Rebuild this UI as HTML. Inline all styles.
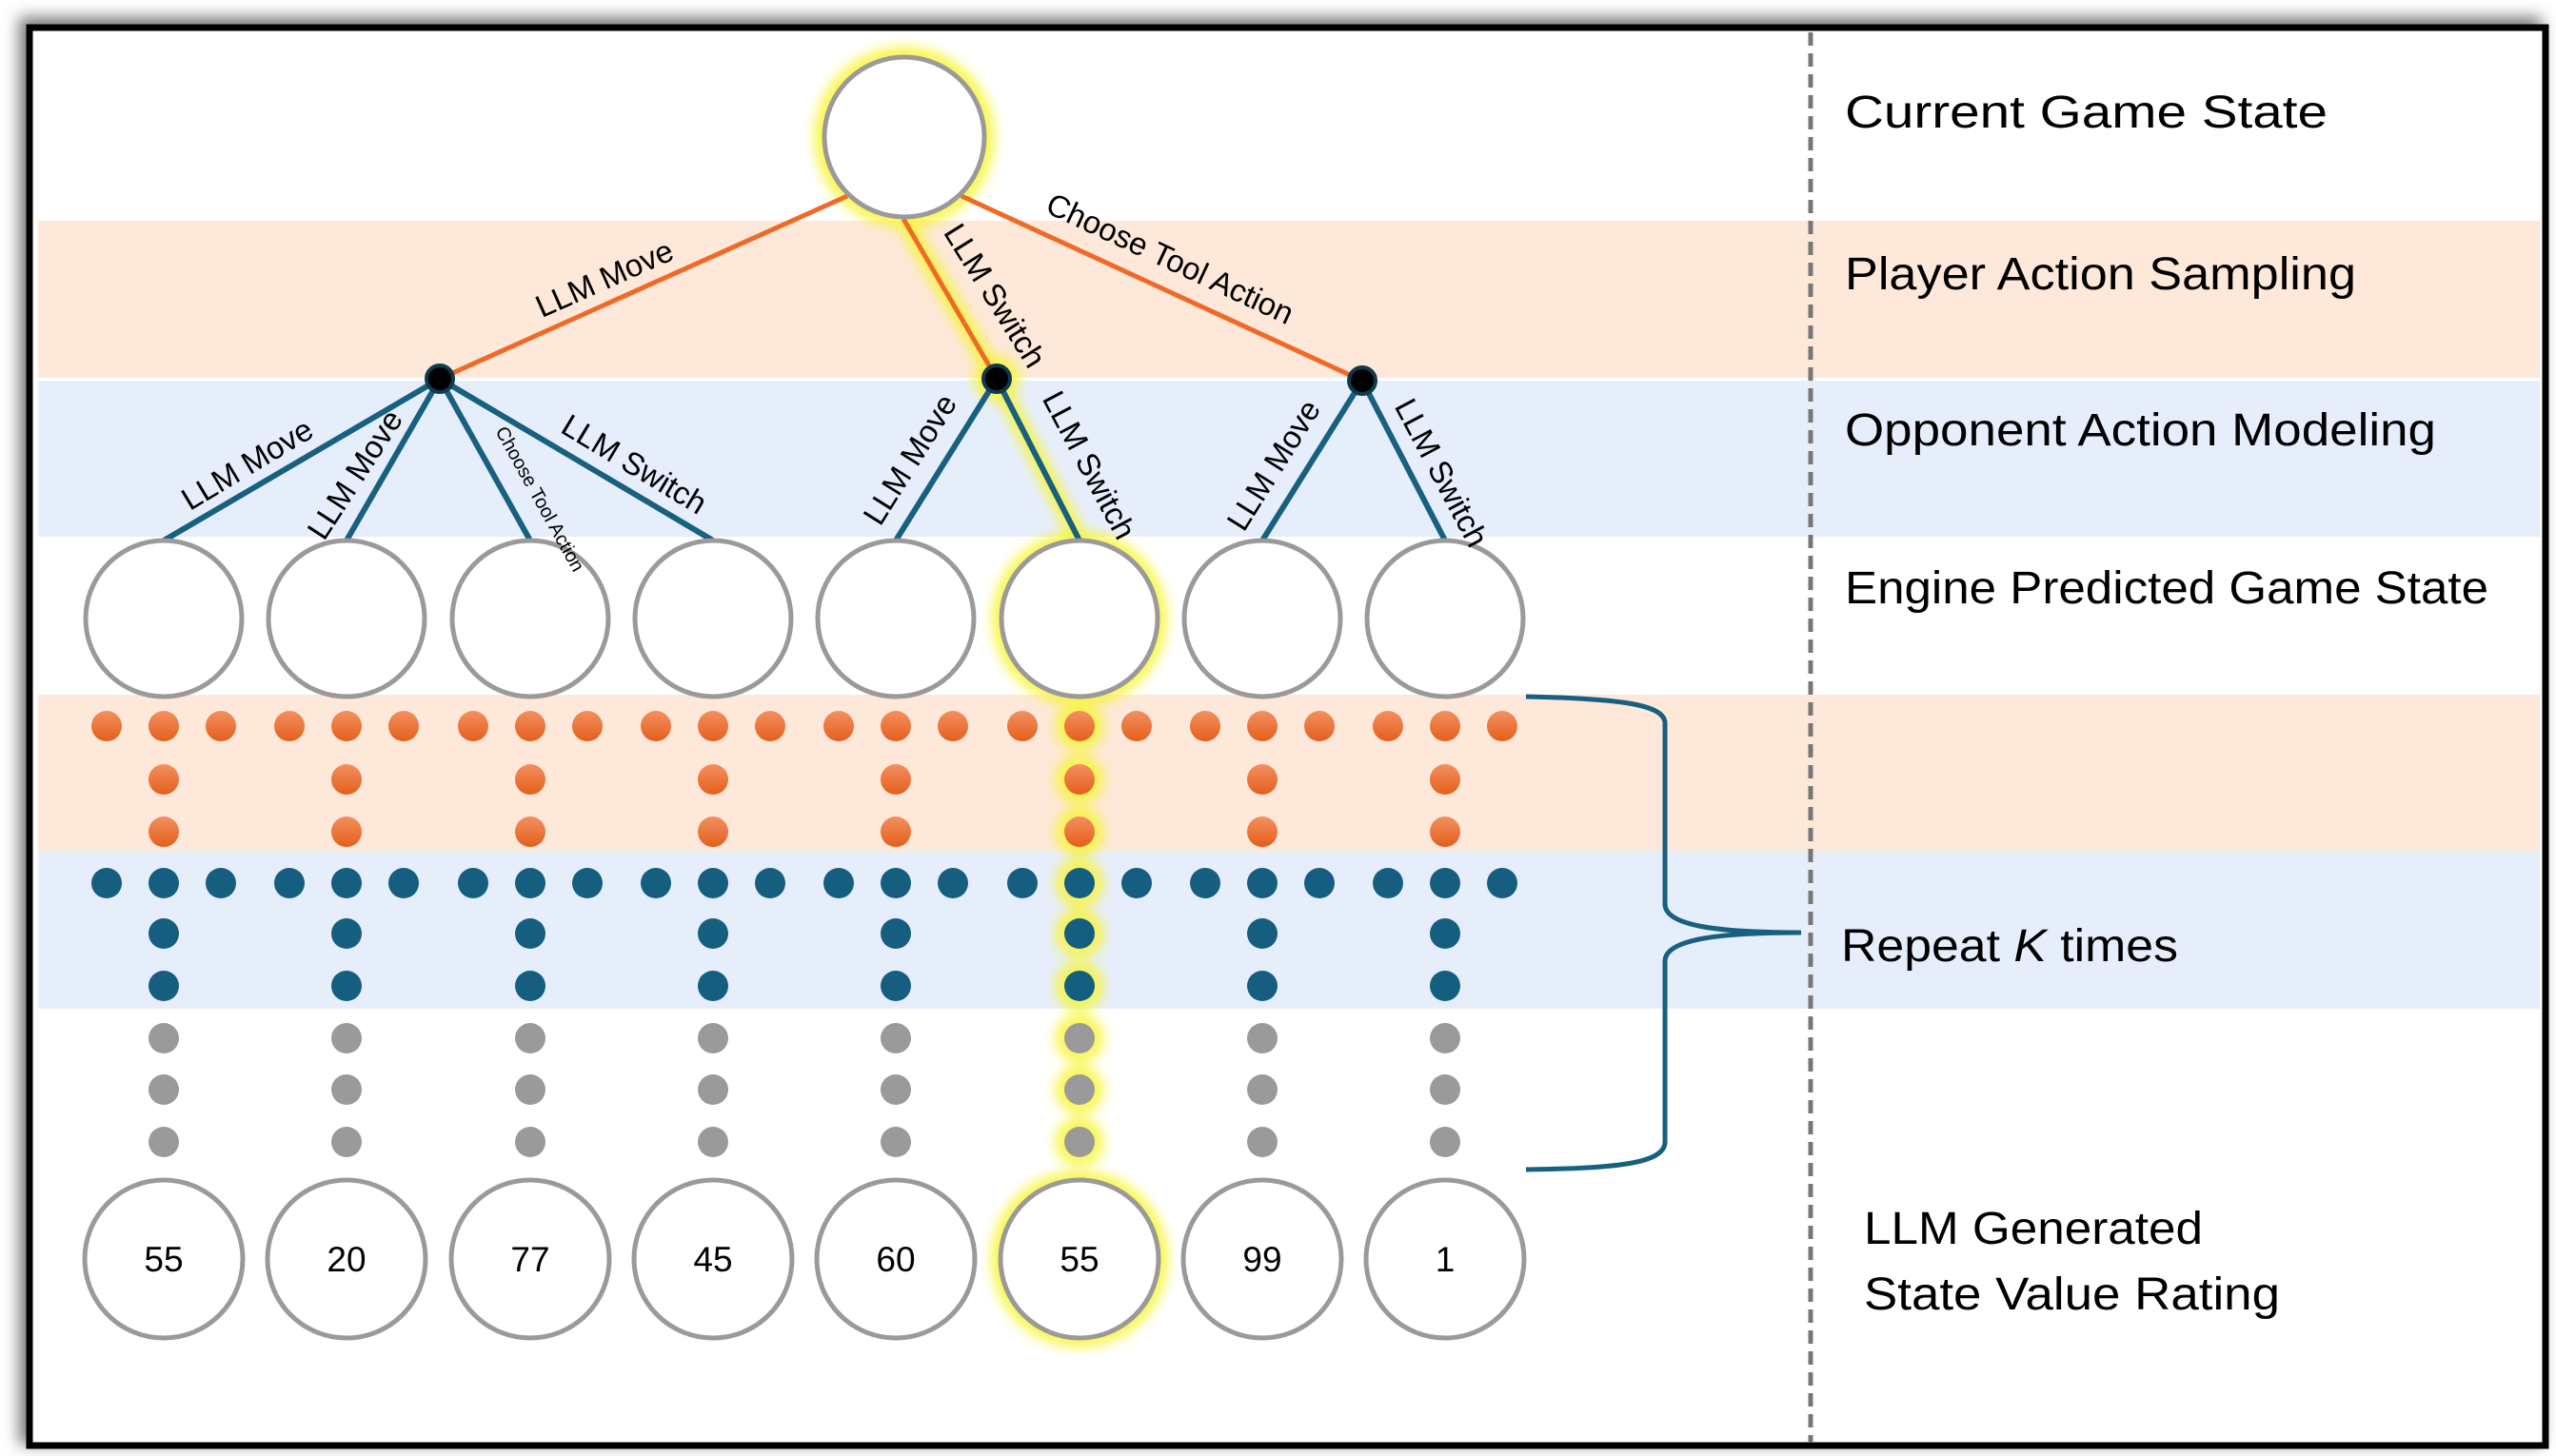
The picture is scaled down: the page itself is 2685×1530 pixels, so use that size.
<!DOCTYPE html>
<html><head><meta charset="utf-8"><style>
html,body{margin:0;padding:0;background:#fff;}
svg{display:block;}
text{font-family:"Liberation Sans",sans-serif;}
</style></head><body>
<svg width="2685" height="1530" viewBox="0 0 2685 1530" xmlns="http://www.w3.org/2000/svg">
<defs>
<filter id="sh" x="-5%" y="-5%" width="110%" height="110%"><feGaussianBlur stdDeviation="8"/></filter>
<filter id="glow" x="-20%" y="-20%" width="140%" height="140%"><feGaussianBlur stdDeviation="6"/></filter>
<linearGradient id="og" x1="0" y1="0" x2="0" y2="1"><stop offset="0" stop-color="#f39060"/><stop offset="1" stop-color="#e45f1c"/></linearGradient>
</defs>
<rect x="20" y="18" width="2650" height="1500" fill="#777" filter="url(#sh)"/>
<rect x="31" y="29" width="2643" height="1490" fill="#fff" stroke="#000" stroke-width="7"/>
<rect x="40" y="232" width="2628" height="165" fill="#fde8d9"/>
<rect x="40" y="400" width="2628" height="164" fill="#e6eefc"/>
<rect x="40" y="730" width="2628" height="164" fill="#fde8d9"/>
<rect x="40" y="894" width="2628" height="166" fill="#e6eefc"/>
<line x1="1902" y1="34" x2="1902" y2="1516" stroke="#777" stroke-width="5" stroke-dasharray="14 8"/>

<g filter="url(#glow)" stroke="#f8f530" fill="none" opacity="0.85">
<circle cx="950" cy="144" r="85" stroke-width="20"/>
<line x1="949" y1="230" x2="1047" y2="398" stroke-width="18"/>
<circle cx="1047" cy="398" r="16" stroke-width="16"/>
<line x1="1047" y1="398" x2="1134" y2="568" stroke-width="18"/>
<circle cx="1134" cy="650" r="82" stroke-width="20"/>
<circle cx="1134" cy="1323" r="83" stroke-width="20"/>
</g>
<g filter="url(#glow)" fill="#f8f530" opacity="0.8">
<circle cx="1134" cy="763" r="26"/><circle cx="1134" cy="819" r="26"/><circle cx="1134" cy="874" r="26"/>
<circle cx="1134" cy="928" r="26"/><circle cx="1134" cy="981" r="26"/><circle cx="1134" cy="1036" r="26"/>
<circle cx="1134" cy="1091" r="26"/><circle cx="1134" cy="1145" r="26"/><circle cx="1134" cy="1200" r="26"/>
</g>

<g stroke="#ef6a28" stroke-width="5">
<line x1="890" y1="206" x2="462" y2="398"/>
<line x1="949" y1="230" x2="1047" y2="398"/>
<line x1="1010" y1="206" x2="1431" y2="400"/>
</g>
<g stroke="#17607f" stroke-width="6">
<line x1="462" y1="398" x2="172" y2="568"/>
<line x1="462" y1="398" x2="364" y2="568"/>
<line x1="462" y1="398" x2="557" y2="568"/>
<line x1="462" y1="398" x2="749" y2="568"/>
<line x1="1047" y1="398" x2="941" y2="568"/>
<line x1="1047" y1="398" x2="1134" y2="568"/>
<line x1="1431" y1="400" x2="1326" y2="568"/>
<line x1="1431" y1="400" x2="1518" y2="568"/>
</g>
<g fill="#000" stroke="#0e3a50" stroke-width="4">
<circle cx="462" cy="398" r="14"/><circle cx="1047" cy="398" r="14"/><circle cx="1431" cy="400" r="14"/>
</g>

<g fill="#fff" stroke="#9a9a9a" stroke-width="5">
<circle cx="950" cy="144" r="84"/>
<circle cx="172" cy="650" r="82"/><circle cx="364" cy="650" r="82"/><circle cx="557" cy="650" r="82"/><circle cx="749" cy="650" r="82"/>
<circle cx="941" cy="650" r="82"/><circle cx="1134" cy="650" r="82"/><circle cx="1326" cy="650" r="82"/><circle cx="1518" cy="650" r="82"/>
<circle cx="172" cy="1323" r="83"/><circle cx="364" cy="1323" r="83"/><circle cx="557" cy="1323" r="83"/><circle cx="749" cy="1323" r="83"/>
<circle cx="941" cy="1323" r="83"/><circle cx="1134" cy="1323" r="83"/><circle cx="1326" cy="1323" r="83"/><circle cx="1518" cy="1323" r="83"/>
</g>
<g font-size="37" text-anchor="middle" fill="#000">
<text x="172" y="1336">55</text><text x="364" y="1336">20</text><text x="557" y="1336">77</text><text x="749" y="1336">45</text>
<text x="941" y="1336">60</text><text x="1134" y="1336">55</text><text x="1326" y="1336">99</text><text x="1518" y="1336">1</text>
</g>

<g>
<g fill="url(#og)">
<circle cx="112" cy="763" r="16"/><circle cx="172" cy="763" r="16"/><circle cx="232" cy="763" r="16"/><circle cx="172" cy="819" r="16"/><circle cx="172" cy="874" r="16"/>
<circle cx="304" cy="763" r="16"/><circle cx="364" cy="763" r="16"/><circle cx="424" cy="763" r="16"/><circle cx="364" cy="819" r="16"/><circle cx="364" cy="874" r="16"/>
<circle cx="497" cy="763" r="16"/><circle cx="557" cy="763" r="16"/><circle cx="617" cy="763" r="16"/><circle cx="557" cy="819" r="16"/><circle cx="557" cy="874" r="16"/>
<circle cx="689" cy="763" r="16"/><circle cx="749" cy="763" r="16"/><circle cx="809" cy="763" r="16"/><circle cx="749" cy="819" r="16"/><circle cx="749" cy="874" r="16"/>
<circle cx="881" cy="763" r="16"/><circle cx="941" cy="763" r="16"/><circle cx="1001" cy="763" r="16"/><circle cx="941" cy="819" r="16"/><circle cx="941" cy="874" r="16"/>
<circle cx="1074" cy="763" r="16"/><circle cx="1134" cy="763" r="16"/><circle cx="1194" cy="763" r="16"/><circle cx="1134" cy="819" r="16"/><circle cx="1134" cy="874" r="16"/>
<circle cx="1266" cy="763" r="16"/><circle cx="1326" cy="763" r="16"/><circle cx="1386" cy="763" r="16"/><circle cx="1326" cy="819" r="16"/><circle cx="1326" cy="874" r="16"/>
<circle cx="1458" cy="763" r="16"/><circle cx="1518" cy="763" r="16"/><circle cx="1578" cy="763" r="16"/><circle cx="1518" cy="819" r="16"/><circle cx="1518" cy="874" r="16"/>
</g>
<g fill="#155e7f">
<circle cx="112" cy="928" r="16"/><circle cx="172" cy="928" r="16"/><circle cx="232" cy="928" r="16"/><circle cx="172" cy="981" r="16"/><circle cx="172" cy="1036" r="16"/>
<circle cx="304" cy="928" r="16"/><circle cx="364" cy="928" r="16"/><circle cx="424" cy="928" r="16"/><circle cx="364" cy="981" r="16"/><circle cx="364" cy="1036" r="16"/>
<circle cx="497" cy="928" r="16"/><circle cx="557" cy="928" r="16"/><circle cx="617" cy="928" r="16"/><circle cx="557" cy="981" r="16"/><circle cx="557" cy="1036" r="16"/>
<circle cx="689" cy="928" r="16"/><circle cx="749" cy="928" r="16"/><circle cx="809" cy="928" r="16"/><circle cx="749" cy="981" r="16"/><circle cx="749" cy="1036" r="16"/>
<circle cx="881" cy="928" r="16"/><circle cx="941" cy="928" r="16"/><circle cx="1001" cy="928" r="16"/><circle cx="941" cy="981" r="16"/><circle cx="941" cy="1036" r="16"/>
<circle cx="1074" cy="928" r="16"/><circle cx="1134" cy="928" r="16"/><circle cx="1194" cy="928" r="16"/><circle cx="1134" cy="981" r="16"/><circle cx="1134" cy="1036" r="16"/>
<circle cx="1266" cy="928" r="16"/><circle cx="1326" cy="928" r="16"/><circle cx="1386" cy="928" r="16"/><circle cx="1326" cy="981" r="16"/><circle cx="1326" cy="1036" r="16"/>
<circle cx="1458" cy="928" r="16"/><circle cx="1518" cy="928" r="16"/><circle cx="1578" cy="928" r="16"/><circle cx="1518" cy="981" r="16"/><circle cx="1518" cy="1036" r="16"/>
</g>
<g fill="#9a9a9a">
<circle cx="172" cy="1091" r="16"/><circle cx="172" cy="1145" r="16"/><circle cx="172" cy="1200" r="16"/>
<circle cx="364" cy="1091" r="16"/><circle cx="364" cy="1145" r="16"/><circle cx="364" cy="1200" r="16"/>
<circle cx="557" cy="1091" r="16"/><circle cx="557" cy="1145" r="16"/><circle cx="557" cy="1200" r="16"/>
<circle cx="749" cy="1091" r="16"/><circle cx="749" cy="1145" r="16"/><circle cx="749" cy="1200" r="16"/>
<circle cx="941" cy="1091" r="16"/><circle cx="941" cy="1145" r="16"/><circle cx="941" cy="1200" r="16"/>
<circle cx="1134" cy="1091" r="16"/><circle cx="1134" cy="1145" r="16"/><circle cx="1134" cy="1200" r="16"/>
<circle cx="1326" cy="1091" r="16"/><circle cx="1326" cy="1145" r="16"/><circle cx="1326" cy="1200" r="16"/>
<circle cx="1518" cy="1091" r="16"/><circle cx="1518" cy="1145" r="16"/><circle cx="1518" cy="1200" r="16"/>
</g>
</g>

<path d="M1603,732 C1700,734 1749,740 1749,760 L1749,950 C1749,972 1800,980 1892,980 M1892,980 C1800,980 1749,988 1749,1010 L1749,1200 C1749,1222 1700,1228 1603,1229" fill="none" stroke="#17607f" stroke-width="5"/>

<g font-size="33" fill="#000" text-anchor="middle" dominant-baseline="middle">
<text transform="translate(636,295) rotate(-24)">LLM Move</text>
<text transform="translate(1043,312) rotate(58)">LLM Switch</text>
<text transform="translate(1228,274) rotate(25)">Choose Tool Action</text>
<text transform="translate(261,490) rotate(-31)">LLM Move</text>
<text transform="translate(375,500) rotate(-57)">LLM Move</text>
<text transform="translate(665,490) rotate(31)">LLM Switch</text>
<text transform="translate(958,484) rotate(-58)">LLM Move</text>
<text transform="translate(1142,490) rotate(62)">LLM Switch</text>
<text transform="translate(1340,490) rotate(-58)">LLM Move</text>
<text transform="translate(1512,498) rotate(62)">LLM Switch</text>
<text font-size="20" transform="translate(566,525) rotate(61)">Choose Tool Action</text>
</g>

<g font-size="48" fill="#000">
<text x="1938" y="134" textLength="507" lengthAdjust="spacingAndGlyphs">Current Game State</text>
<text x="1938" y="304" textLength="537" lengthAdjust="spacingAndGlyphs">Player Action Sampling</text>
<text x="1938" y="468" textLength="621" lengthAdjust="spacingAndGlyphs">Opponent Action Modeling</text>
<text x="1938" y="634" textLength="676" lengthAdjust="spacingAndGlyphs">Engine Predicted Game State</text>
<text x="1934" y="1010" textLength="354" lengthAdjust="spacingAndGlyphs">Repeat <tspan font-style="italic">K</tspan> times</text>
<text x="1958" y="1307" textLength="356" lengthAdjust="spacingAndGlyphs">LLM Generated</text>
<text x="1958" y="1376" textLength="437" lengthAdjust="spacingAndGlyphs">State Value Rating</text>
</g>
</svg>
</body></html>
